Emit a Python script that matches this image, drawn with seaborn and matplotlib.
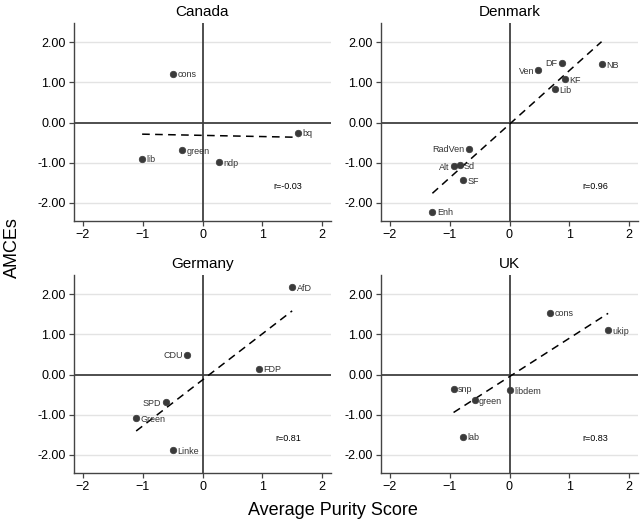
import pandas as pd
import matplotlib
matplotlib.use("Agg")
import matplotlib.pyplot as plt
import seaborn as sns
from matplotlib.ticker import FormatStrFormatter

# Data
canada_party = ["cons", "bq", "green", "lib", "ndp"]
canada_purity = [-0.49, 1.60, -0.34, -1.01, 0.28]
canada_amce = [1.22, -0.25, -0.68, -0.90, -0.98]

denmark_party = ["DF", "Ven", "NB", "KF", "Lib", "RadVen", "Alt", "Sd", "SF", "Enh"]
denmark_purity = [0.875, 0.485, 1.54, 0.93, 0.76, -0.674, -0.936, -0.836, -0.77, -1.29]
denmark_amce = [1.49, 1.31, 1.46, 1.08, 0.83, -0.645, -1.09, -1.06, -1.44, -2.22]

germany_party = ["AfD", "CDU", "FDP", "SPD", "Green", "Linke"]
germany_purity = [1.50, -0.257, 0.948, -0.614, -1.11, -0.49]
germany_amce = [2.17, 0.50, 0.15, -0.68, -1.08, -1.88]

uk_party = ["cons", "ukip", "snp", "green", "libdem", "lab"]
uk_purity = [0.685, 1.65, -0.936, -0.585, 0.0, -0.78]
uk_amce = [1.546, 1.106, -0.35, -0.63, -0.39, -1.55]

countries = ["Canada", "Denmark", "Germany", "UK"]
r_labels = ["r=-0.03", "r=0.96", "r=0.81", "r=0.83"]

# labels drawn on the left side of their marker
left_side = {"DF", "Ven", "RadVen", "Alt", "CDU", "SPD"}

frames = [
    pd.DataFrame({"party": canada_party, "purity": canada_purity, "amce": canada_amce}),
    pd.DataFrame({"party": denmark_party, "purity": denmark_purity, "amce": denmark_amce}),
    pd.DataFrame({"party": germany_party, "purity": germany_purity, "amce": germany_amce}),
    pd.DataFrame({"party": uk_party, "purity": uk_purity, "amce": uk_amce}),
]

sns.set_theme(style="white")
plt.rcParams["font.family"] = ["Liberation Sans", "DejaVu Sans"]

fig = plt.figure(figsize=(6.43, 5.27), dpi=100)
W, H = 643, 527
boxes = [(74, 23), (381, 23), (74, 275), (381, 275)]
aw, ah = 257, 198

dark = "#3a3a3a"
for (lx, ty), name, df, rlab in zip(boxes, countries, frames, r_labels):
    ax = fig.add_axes([lx / W, 1 - (ty + ah) / H, aw / W, ah / H])
    ax.set_xlim(-2.15, 2.15)
    ax.set_ylim(-2.45, 2.48)
    for yv in [-2, -1, 1, 2]:
        ax.axhline(yv, color="#e3e3e3", lw=1, zorder=0)
    ax.axhline(0, color="#404040", lw=1.3, zorder=1)
    ax.axvline(0, color="#404040", lw=1.3, zorder=1)

    sns.regplot(data=df, x="purity", y="amce", ax=ax, ci=None, scatter=False,
                truncate=True,
                line_kws={"color": "black", "lw": 1.1, "ls": (0, (5, 3.5))})
    sns.scatterplot(data=df, x="purity", y="amce", ax=ax, color=dark,
                    s=22, edgecolor=dark, linewidth=0.5, zorder=3)

    for _, row in df.iterrows():
        if row["party"] in left_side:
            ax.annotate(row["party"], (row["purity"], row["amce"]),
                        xytext=(-3.2, -0.8), textcoords="offset points",
                        ha="right", va="center", fontsize=6.5, color="#333333")
        else:
            ax.annotate(row["party"], (row["purity"], row["amce"]),
                        xytext=(3.2, -0.8), textcoords="offset points",
                        ha="left", va="center", fontsize=6.5, color="#333333")

    ax.text(1.43, -1.6, rlab, ha="center", va="center", fontsize=6.5, color="black")

    ax.set_title(name, fontsize=11, pad=5, color="black")
    ax.set_xlabel("")
    ax.set_ylabel("")
    ax.set_xticks([-2, -1, 0, 1, 2])
    ax.set_yticks([-2, -1, 0, 1, 2])
    ax.yaxis.set_major_formatter(FormatStrFormatter("%.2f"))
    ax.tick_params(axis="both", direction="out", length=3.5, width=0.9,
                   color="#444444", labelsize=9, labelcolor="black",
                   left=True, bottom=True, pad=2.5)
    sns.despine(ax=ax)
    for sp in ["left", "bottom"]:
        ax.spines[sp].set_color("#444444")
        ax.spines[sp].set_linewidth(1.0)

fig.text(0.0195, 0.531, "AMCEs", rotation=90, ha="center", va="center",
         fontsize=13, color="black")
fig.text(0.518, 0.032, "Average Purity Score", ha="center", va="center",
         fontsize=13, color="black")

fig.savefig("out.png", dpi=100)
